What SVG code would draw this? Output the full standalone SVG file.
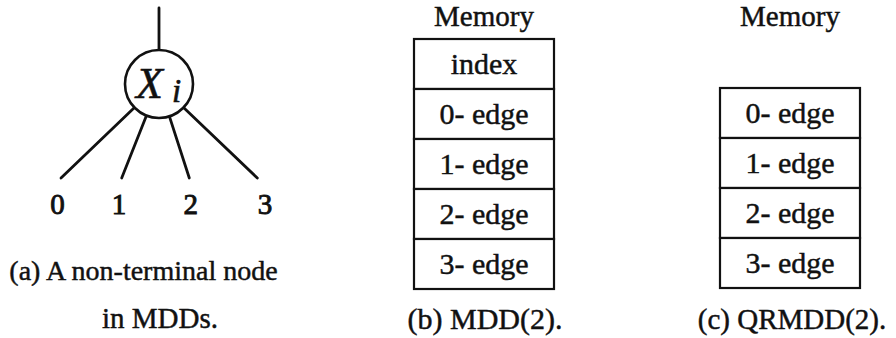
<svg xmlns="http://www.w3.org/2000/svg" width="896" height="338" viewBox="0 0 896 338">
  <style>
    text { font-family: "Liberation Serif", "Times New Roman", serif; fill: #111; stroke: #111; stroke-width: 0.45; }
    .cap { font-size: 29px; text-anchor: middle; }
    .cell-text { font-size: 30px; text-anchor: middle; }
    .title { font-size: 29px; text-anchor: middle; }
    .digit { font-size: 29px; text-anchor: middle; stroke-width: 0.9; }
    .math { font-style: italic; stroke-width: 0.6; }
    .cell { fill: #fff; stroke: #111; stroke-width: 2.2; }
    .edge { stroke: #111; stroke-width: 2.8; fill: none; stroke-linecap: round; }
  </style>

  <!-- (a) non-terminal node with four outgoing edges -->
  <g id="connectors">
    <line class="edge" x1="159" y1="8" x2="159" y2="50"/>
    <line class="edge" x1="134.5" y1="107.5" x2="61" y2="178"/>
    <line class="edge" x1="146.5" y1="115.6" x2="121.7" y2="178"/>
    <line class="edge" x1="169.4" y1="116.4" x2="189.3" y2="178"/>
    <line class="edge" x1="183.5" y1="107.5" x2="257.3" y2="178"/>
  </g>

  <g id="node-xi">
    <circle cx="159" cy="84" r="34" fill="#fff" stroke="#111" stroke-width="2.6"/>
    <text class="math" x="136" y="98" style="font-size:44px">X</text>
    <text class="math" x="172" y="102" style="font-size:33px">i</text>
  </g>

  <g id="terminal-labels">
    <text class="digit" x="57.5" y="214">0</text>
    <text class="digit" x="119" y="214">1</text>
    <text class="digit" x="190.7" y="214">2</text>
    <text class="digit" x="265" y="214">3</text>
  </g>

  <g id="caption-a">
    <text class="cap" x="143.5" y="280" style="font-size:28px">(a) A non-terminal node</text>
    <text class="cap" x="160" y="328">in MDDs.</text>
  </g>

  <!-- (b) memory layout of an MDD(2) node -->
  <g id="mdd-memory">
    <text class="title" x="484" y="26">Memory</text>
    <rect class="cell" x="414" y="39" width="140" height="50"/>
    <rect class="cell" x="414" y="89" width="140" height="50"/>
    <rect class="cell" x="414" y="139" width="140" height="50"/>
    <rect class="cell" x="414" y="189" width="140" height="50"/>
    <rect class="cell" x="414" y="239" width="140" height="50"/>
    <text class="cell-text" x="484" y="74">index</text>
    <text class="cell-text" x="484" y="124">0- edge</text>
    <text class="cell-text" x="484" y="174">1- edge</text>
    <text class="cell-text" x="484" y="224">2- edge</text>
    <text class="cell-text" x="484" y="274">3- edge</text>
    <text class="cap" x="485" y="329" style="font-size:30px">(b) MDD(2).</text>
  </g>

  <!-- (c) memory layout of a QRMDD(2) node -->
  <g id="qrmdd-memory">
    <text class="title" x="790" y="26">Memory</text>
    <rect class="cell" x="720" y="88" width="140" height="50"/>
    <rect class="cell" x="720" y="138" width="140" height="50"/>
    <rect class="cell" x="720" y="188" width="140" height="50"/>
    <rect class="cell" x="720" y="238" width="140" height="50"/>
    <text class="cell-text" x="790" y="123">0- edge</text>
    <text class="cell-text" x="790" y="173">1- edge</text>
    <text class="cell-text" x="790" y="223">2- edge</text>
    <text class="cell-text" x="790" y="273">3- edge</text>
    <text class="cap" x="792" y="329">(c) QRMDD(2).</text>
  </g>
</svg>
